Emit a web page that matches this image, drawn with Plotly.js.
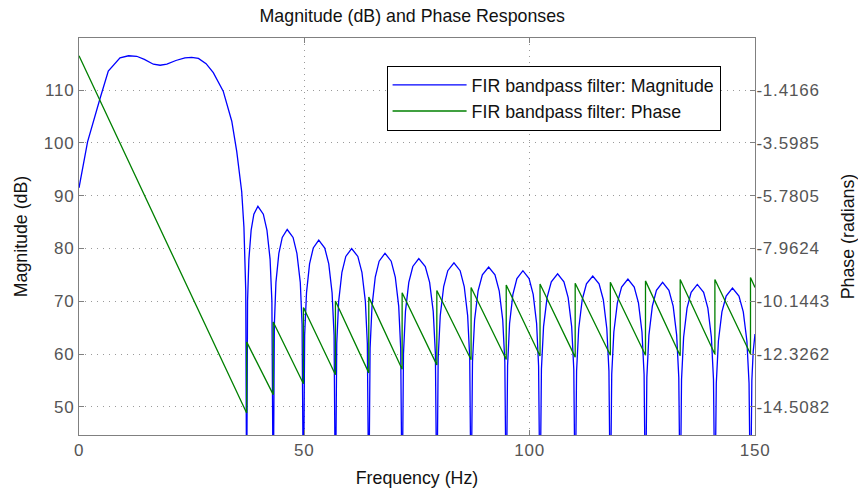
<!DOCTYPE html>
<html>
<head>
<meta charset="utf-8">
<script src="https://cdn.plot.ly/plotly-3.0.1.min.js"></script>
<style>
html,body{margin:0;padding:0;background:#fff;}
#chart{width:858px;height:490px;}
.xtick text, .ytick text, .y2tick text { letter-spacing: 0.8px; }
</style>
</head>
<body>
<div id="chart"></div>
<script>
// Magnitude response (dB); nulls drop below the axis floor
const magFreq = [
  0, 1.9, 4.7, 6.5, 9.1, 11.0, 12.8, 14.5, 16.5, 18.0, 19.5, 21.5, 23.5, 25.0, 26.5, 28.2, 29.8, 32.0, 33.9, 35.0, 36.1, 36.6, 37.0, 37.2,
  37.4, 37.7, 38.2, 38.8, 39.7, 40.9, 41.7, 42.4, 42.8, 43.1,
  43.35, 43.7, 44.35, 45.1, 46.2, 47.5, 48.35, 49.1, 49.5, 49.8,
  50.07, 50.48, 51.16, 51.98, 53.2, 54.53, 55.42, 56.16, 56.6, 56.9,
  57.19, 57.62, 58.34, 59.2, 60.5, 61.87, 62.78, 63.54, 63.98, 64.3,
  64.59, 65.02, 65.74, 66.6, 67.9, 69.27, 70.18, 70.94, 71.38, 71.7,
  72.0, 72.44, 73.18, 74.07, 75.4, 76.84, 77.8, 78.6, 79.08, 79.4,
  79.7, 80.16, 80.92, 81.83, 83.2, 84.57, 85.48, 86.24, 86.7, 87.0,
  87.31, 87.78, 88.56, 89.5, 90.9, 92.3, 93.24, 94.02, 94.49, 94.8,
  95.1, 95.54, 96.28, 97.17, 98.5, 99.87, 100.78, 101.54, 101.98, 102.3,
  102.61, 103.08, 103.86, 104.8, 106.2, 107.6, 108.54, 109.32, 109.79, 110.1,
  110.41, 110.88, 111.66, 112.6, 114.0, 115.4, 116.34, 117.12, 117.59, 117.9,
  118.21, 118.68, 119.46, 120.4, 121.8, 123.2, 124.14, 124.92, 125.39, 125.7,
  126.0, 126.46, 127.22, 128.13, 129.5, 130.9, 131.84, 132.62, 133.09, 133.4,
  133.7, 134.16, 134.92, 135.83, 137.2, 138.6, 139.54, 140.32, 140.79, 141.1,
  141.41, 141.88, 142.66, 143.6, 145.0, 146.44, 147.4, 148.2, 148.68, 149.0,
  149.3, 149.6, 150.0
];
const magDb = [
  91.5, 100.2, 108.5, 113.6, 116.1, 116.5, 116.4, 115.8, 114.9, 114.7, 114.9, 115.6, 116.1, 116.2, 116.0, 115.0, 113.3, 109.8, 104.1, 98.4, 90.8, 84.0, 72.0, 30,
  70.0, 78.0, 83.5, 86.5, 88.0, 86.5, 83.5, 78.0, 70.0, 30,
  65.6, 73.6, 79.1, 82.1, 83.6, 82.1, 79.1, 73.6, 65.6, 30,
  63.6, 71.6, 77.1, 80.1, 81.6, 80.1, 77.1, 71.6, 63.6, 30,
  62.0, 70.0, 75.5, 78.5, 80.0, 78.5, 75.5, 70.0, 62.0, 30,
  61.1, 69.1, 74.6, 77.6, 79.1, 77.6, 74.6, 69.1, 61.1, 30,
  60.1, 68.1, 73.6, 76.6, 78.1, 76.6, 73.6, 68.1, 60.1, 30,
  59.3, 67.3, 72.8, 75.8, 77.3, 75.8, 72.8, 67.3, 59.3, 30,
  58.5, 66.5, 72.0, 75.0, 76.5, 75.0, 72.0, 66.5, 58.5, 30,
  57.8, 65.8, 71.3, 74.3, 75.8, 74.3, 71.3, 65.8, 57.8, 30,
  57.2, 65.2, 70.7, 73.7, 75.2, 73.7, 70.7, 65.2, 57.2, 30,
  56.8, 64.8, 70.3, 73.3, 74.8, 73.3, 70.3, 64.8, 56.8, 30,
  56.2, 64.2, 69.7, 72.7, 74.2, 72.7, 69.7, 64.2, 56.2, 30,
  55.6, 63.6, 69.1, 72.1, 73.6, 72.1, 69.1, 63.6, 55.6, 30,
  55.2, 63.2, 68.7, 71.7, 73.2, 71.7, 68.7, 63.2, 55.2, 30,
  54.5, 62.5, 68.0, 71.0, 72.5, 71.0, 68.0, 62.5, 54.5, 30,
  55.0, 60.5, 63.8
];
// Phase response (radians): corners of the sawtooth
const phaseFreq = [0, 37.2, 37.2, 43.1, 43.1, 49.8, 49.8, 56.9, 56.9, 64.3, 64.3, 71.7, 71.7, 79.4, 79.4, 87.0, 87.0,
  94.8, 94.8, 102.3, 102.3, 110.1, 110.1, 117.9, 117.9, 125.7, 125.7, 133.4, 133.4, 141.1, 141.1, 149.0, 149.0, 150];
const phaseRad = [0, -14.76, -11.82, -14.0, -11.0, -13.55, -10.4, -13.18, -10.13, -13.1, -9.97, -12.95, -9.79, -12.77, -9.7, -12.56, -9.57,
  -12.55, -9.47, -12.4, -9.43, -12.45, -9.4, -12.37, -9.36, -12.37, -9.30, -12.39, -9.24, -12.33, -9.24, -12.32, -9.16, -9.57];

const xTicks = [0, 50, 100, 150];
const magTicks = [50, 60, 70, 80, 90, 100, 110];
const phaseTicks = [-14.5082, -12.3262, -10.1443, -7.9624, -5.7805, -3.5985, -1.4166];
const phaseTickText = ['-14.5082', '-12.3262', '-10.1443', '-7.9624', '-5.7805', '-3.5985', '-1.4166'];
const magRange = [44.69, 119.86];
const phaseRange = [-15.6668, 0.7348];

const FONT = 'Liberation Sans, Arial, sans-serif';
const tickFont = {family: FONT, size: 17, color: '#555'};
const textFont = {family: FONT, size: 17.8, color: '#111'};

const traces = [
  {x: magFreq, y: magDb, type: 'scatter', mode: 'lines', name: 'FIR bandpass filter: Magnitude',
   line: {color: '#0000ff', width: 1.3}, yaxis: 'y'},
  {x: phaseFreq, y: phaseRad, type: 'scatter', mode: 'lines', name: 'FIR bandpass filter: Phase',
   line: {color: '#008000', width: 1.3}, yaxis: 'y2'}
];

const layout = {
  width: 858, height: 490,
  margin: {l: 79, r: 103, t: 38, b: 55},
  paper_bgcolor: '#fff', plot_bgcolor: '#fff',
  font: textFont,
  title: {text: 'Magnitude (dB) and Phase Responses', font: textFont,
          x: 0.493, xref: 'paper', xanchor: 'center', y: 0.967, yref: 'container', yanchor: 'middle'},
  showlegend: true,
  legend: {x: 0.455, y: 0.93, xanchor: 'left', yanchor: 'top', bgcolor: '#fff', bordercolor: '#000', borderwidth: 1,
           font: textFont, itemwidth: 74},
  xaxis: {range: [0, 150], tickvals: xTicks, ticks: 'inside', ticklen: 5, tickcolor: '#808080',
          showline: true, linecolor: '#808080', linewidth: 1, mirror: 'ticks',
          showgrid: true, gridcolor: '#9a9a9a', griddash: '1px,5px', zeroline: false,
          tickfont: tickFont,
          title: {text: 'Frequency (Hz)', font: textFont, standoff: 12}},
  yaxis: {range: magRange, tickvals: magTicks, ticks: 'inside', ticklen: 5, tickcolor: '#808080',
          showline: true, linecolor: '#808080', linewidth: 1, mirror: false,
          showgrid: true, gridcolor: '#9a9a9a', griddash: '1px,5px', zeroline: false,
          tickfont: tickFont,
          title: {text: 'Magnitude (dB)', font: textFont, standoff: 11}},
  yaxis2: {range: phaseRange, tickvals: phaseTicks, ticktext: phaseTickText, overlaying: 'y', side: 'right',
           ticks: 'inside', ticklen: 5, tickcolor: '#808080', ticklabelstandoff: -3,
           showline: true, linecolor: '#808080', linewidth: 1, showgrid: false, zeroline: false,
           tickfont: tickFont,
           title: {text: 'Phase (radians)', font: textFont, standoff: 14}}
};

Plotly.newPlot('chart', traces, layout, {displayModeBar: false, staticPlot: true});
</script>
</body>
</html>
